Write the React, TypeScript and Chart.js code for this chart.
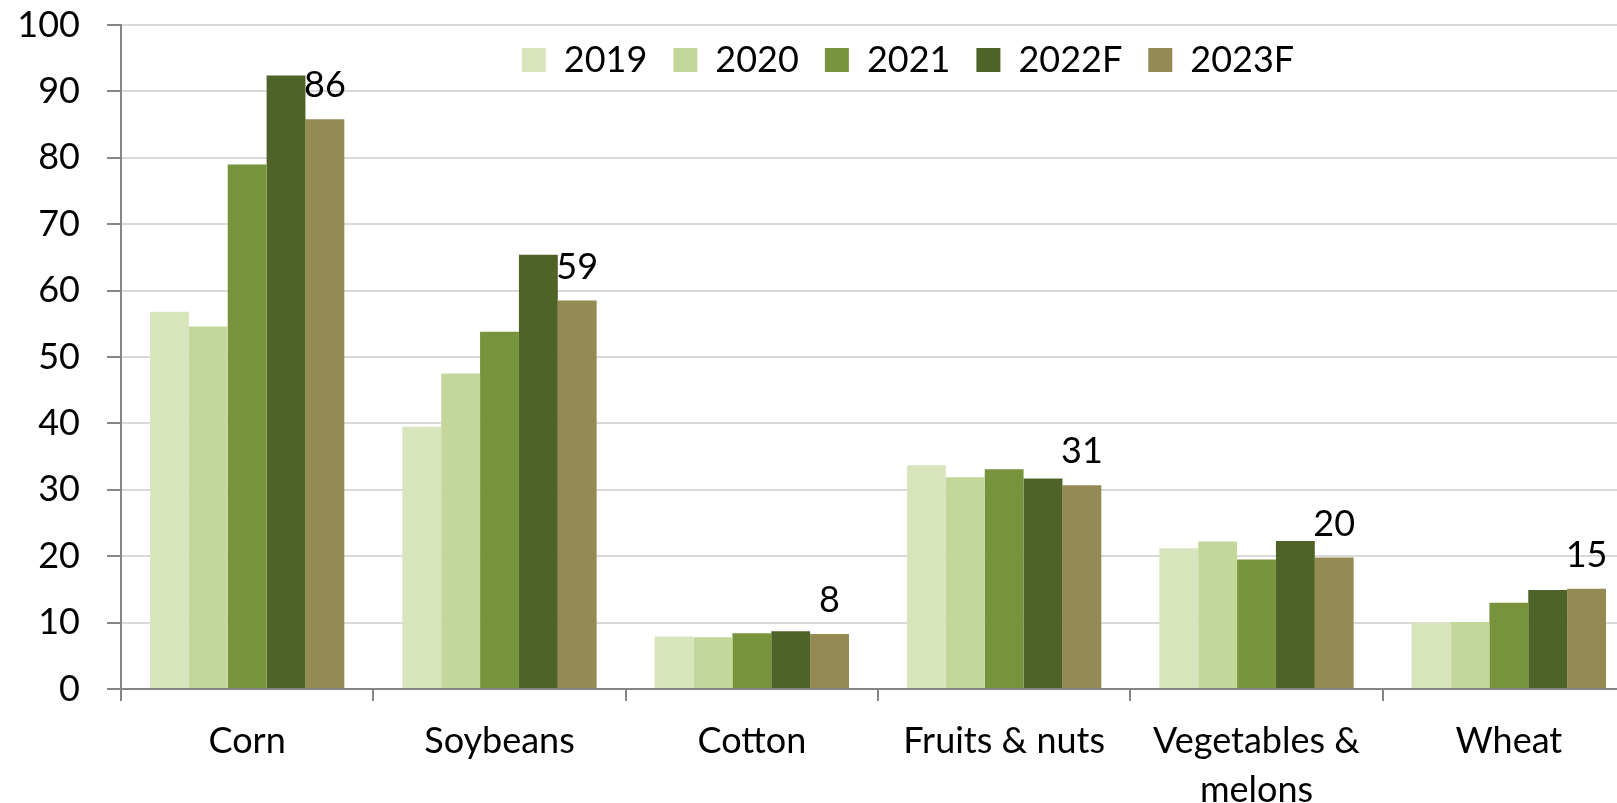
import React, { useEffect, useRef } from "react";
import { Chart, registerables } from "chart.js";

Chart.register(...registerables);

const categories: (string | string[])[] = [
  "Corn",
  "Soybeans",
  "Cotton",
  "Fruits & nuts",
  ["Vegetables &", "melons"],
  "Wheat",
];

const seriesNames = ["2019", "2020", "2021", "2022F", "2023F"];

const s2019 = [56.8, 39.5, 7.9, 33.7, 21.2, 10.0];
const s2020 = [54.6, 47.5, 7.8, 31.9, 22.2, 10.1];
const s2021 = [79.0, 53.8, 8.4, 33.1, 19.5, 13.0];
const s2022F = [92.4, 65.4, 8.7, 31.7, 22.3, 14.9];
const s2023F = [85.8, 58.5, 8.3, 30.7, 19.8, 15.1];

const seriesColors = ["#D8E4BC", "#C4D79B", "#77933C", "#4F6228", "#948A54"];

const yMin = 0;
const yMax = 100;
const yStep = 10;

const FONT = "Lato, 'Open Sans', sans-serif";
const CANVAS_W = 1640;
const CANVAS_H = 830;
const PLOT_TOP = 25;
const PLOT_BOTTOM = 689;

// Lay the legend out as one horizontal row inside the plot area, near its top.
const legendInside = {
  id: "legendInside",
  afterInit(chart: any) {
    if (chart.legend) chart.legend.isHorizontal = () => true;
  },
  afterLayout(chart: any) {
    const l = chart.legend;
    const ca = chart.chartArea;
    if (!l || !ca) return;
    l.left = ca.left + 30;
    l.right = ca.right + 30;
    l.top = ca.top - 9;
    l.bottom = l.top + (l.height || 0);
  },
};

const dataLabels = {
  id: "dataLabels",
  afterDatasetsDraw(chart: any) {
    const ctx = chart.ctx;
    const idx = 4;
    const meta = chart.getDatasetMeta(idx);
    const values = chart.data.datasets[idx].data as number[];
    ctx.save();
    ctx.font = `36px ${FONT}`;
    ctx.fillStyle = "#000000";
    ctx.textAlign = "center";
    ctx.textBaseline = "alphabetic";
    meta.data.forEach((el: any, i: number) => {
      ctx.fillText(String(Math.round(values[i])), el.x, el.y - 22);
    });
    ctx.restore();
  },
};

export default function App() {
  const canvasRef = useRef<HTMLCanvasElement | null>(null);

  useEffect(() => {
    if (!canvasRef.current) return;
    const allSeries = [s2019, s2020, s2021, s2022F, s2023F];
    const chart = new Chart(canvasRef.current, {
      type: "bar",
      data: {
        labels: categories as any,
        datasets: allSeries.map((d, i) => ({
          label: seriesNames[i],
          data: d,
          backgroundColor: seriesColors[i],
          borderWidth: 0,
          categoryPercentage: 0.77,
          barPercentage: 1.0,
        })),
      },
      options: {
        responsive: false,
        animation: false,
        layout: { padding: { top: PLOT_TOP, right: 5, left: 0, bottom: 0 } },
        scales: {
          x: {
            offset: true,
            grid: {
              display: true,
              drawOnChartArea: false,
              drawTicks: true,
              tickLength: 12,
              color: "#868686",
              lineWidth: 2,
              offset: true,
            },
            border: { color: "#868686", width: 2 },
            ticks: {
              color: "#000000",
              font: { family: FONT, size: 36, lineHeight: 1.35 },
              padding: 16,
              maxRotation: 0,
              autoSkip: false,
            },
            afterFit: (s: any) => {
              s.height = CANVAS_H - PLOT_BOTTOM;
            },
          },
          y: {
            min: yMin,
            max: yMax,
            ticks: {
              stepSize: yStep,
              color: "#000000",
              font: { family: FONT, size: 36 },
              padding: 27,
            },
            grid: {
              color: (c: any) => (c.tick && c.tick.value === 0 ? "#868686" : "#D9D9D9"),
              lineWidth: 2,
              tickLength: 14,
              tickColor: "#868686",
            },
            border: { color: "#868686", width: 2 },
            afterFit: (s: any) => {
              s.width = 121;
              s.paddingTop = 3;
              s.paddingBottom = 3;
            },
          },
        },
        plugins: {
          legend: {
            position: "chartArea" as any,
            align: "center",
            labels: {
              boxWidth: 24,
              boxHeight: 24,
              padding: 26,
              color: "#000000",
              font: { family: FONT, size: 36 },
            },
          },
          tooltip: { enabled: false },
        },
      },
      plugins: [legendInside, dataLabels],
    });
    return () => chart.destroy();
  }, []);

  return (
    <div
      style={{
        position: "absolute",
        left: 0,
        top: 0,
        width: 1617,
        height: 803,
        overflow: "hidden",
        background: "#ffffff",
      }}
    >
      <canvas
        ref={canvasRef}
        width={CANVAS_W}
        height={CANVAS_H}
        style={{ display: "block", width: CANVAS_W, height: CANVAS_H }}
      />
    </div>
  );
}
